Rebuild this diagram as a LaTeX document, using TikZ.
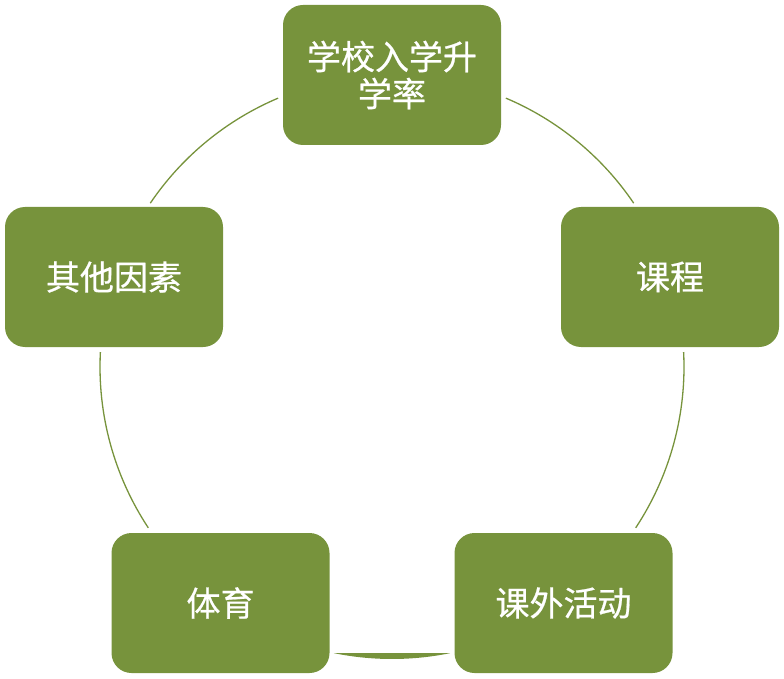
\documentclass[tikz,border=0pt]{standalone}
\usepackage{fontspec}
\usetikzlibrary{calc}
\newfontfamily\cjk[FakeBold=0.6]{Noto Sans CJK SC}
\definecolor{olive}{HTML}{77933C}
\begin{document}
\begin{tikzpicture}[x=1pt,y=-1pt,
  cyclebox/.style={draw=none,fill=olive,rounded corners=20pt,minimum width=218pt,minimum height=140pt,
    text=white,font=\cjk\fontsize{34}{37}\selectfont,align=center,inner sep=0pt},
  cyclearc/.style={draw=olive,line width=1.3pt}]
\useasboundingbox (0,0) rectangle (784,679);
\coordinate (c) at (392,367);
\node[cyclebox] (top) at (392,75) {学校入学升\\学率};
\node[cyclebox] (right) at (670,277) {课程};
\node[cyclebox] (br) at (563.5,603) {课外活动};
\node[cyclebox] (bl) at (220.5,603) {体育};
\node[cyclebox] (left) at (114,277) {其他因素};
% arcs (circle radius 292, y axis downward so angles negated)
\draw[cyclearc] ($(c)+(-112.96:292)$) arc[start angle=-112.96,end angle=-145.87,radius=292];
\draw[cyclearc] ($(c)+(-67.04:292)$) arc[start angle=-67.04,end angle=-34.13,radius=292];
\draw[cyclearc] ($(c)+(-2.94:292)$) arc[start angle=-2.94,end angle=33.42,radius=292];
\draw[cyclearc] ($(c)+(-177.06:292)$) arc[start angle=-177.06,end angle=-213.42,radius=292];
\fill[olive] ($(c)+(78.5:292)$) arc[start angle=78.5,end angle=101.5,radius=292] -- cycle;
\end{tikzpicture}
\end{document}
